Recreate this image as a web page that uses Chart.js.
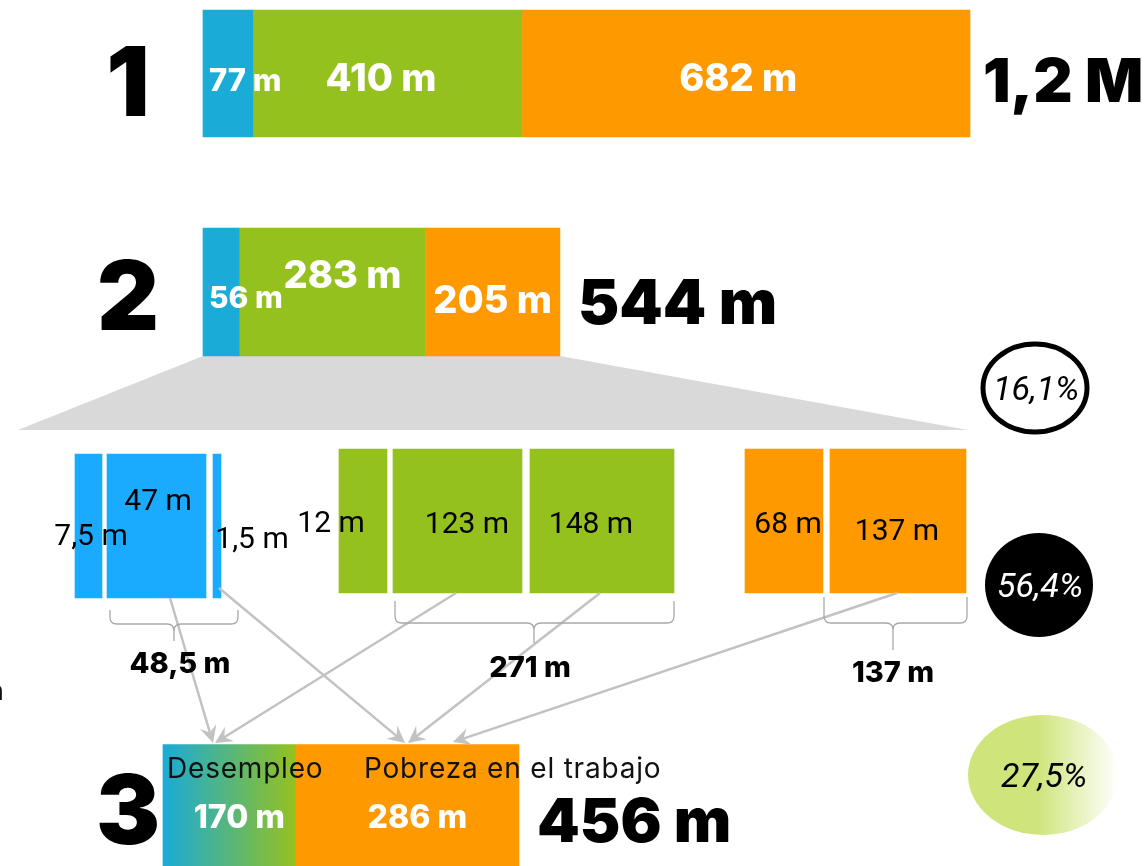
<!DOCTYPE html>
<html>
<head>
<meta charset="utf-8">
<script src="https://cdn.jsdelivr.net/npm/chart.js@4.4.1/dist/chart.umd.min.js"></script>
<style>
  html, body { margin: 0; padding: 0; background: #fff; overflow: hidden; }
  canvas { display: block; }
</style>
</head>
<body>
<canvas id="chart" width="1148" height="866"></canvas>
<script>
// --- data (thousands of people) ---
const rowNumbers = ['1', '2', '3'];
const row1Values = [77, 410, 682];
const row2Values = [56, 283, 205];
const row3Values = [170, 286];
const row3Names = ['Desempleo', 'Pobreza en el trabajo'];
const detailValues = [7.5, 47, 1.5, 12, 123, 148, 68, 137];
const detailGroup = [0, 0, 0, 1, 1, 1, 2, 2];
const braceMembers = [[1, 2], [4, 5], [7]];
const shareValues = [16.1, 56.4, 27.5];

// --- styling / layout ---
const W = 1148, H = 866;
const rowColors = ['#1aabd7', '#95c11f', '#ff9900'];
const detailColors = ['#1aabff', '#95c11f', '#ff9900'];
const ROW_X0 = 203, ROW1_PX = 767;
const ROW3_X0 = 163, ROW3_PX = 356;
const rowY = [73.5, 292, 805.5];
const rowThick = [127, 128, 122];
const BOLD = '"Inter", "Roboto", sans-serif';
const REG = 'Roboto, "Inter", sans-serif';

// detail boxes: left/right edges in pixels, label centre & baseline
const detailBoxes = [[75, 102], [107, 206], [213, 221], [339, 387], [393, 522], [530, 674], [745, 823], [830, 966]];
const detailRowY = [526, 521, 521];
const detailLabelPos = [[91, 545], [158, 510], [252, 548], [331, 532], [467, 533], [591, 533], [788, 533], [897, 540]];
const braceLayout = [
  {x1: 110, x2: 238, xm: 174, top: 610, line: 624, tip: 641, lx: 180, ly: 673},
  {x1: 395, x2: 674, xm: 534, top: 601, line: 623, tip: 643, lx: 530, ly: 677},
  {x1: 824, x2: 967, xm: 893, top: 597, line: 623, tip: 650, lx: 893, ly: 682}
];
const flowLayout = [[170, 598, 213, 743], [219, 588, 405, 743], [456, 593, 215, 743], [600, 593, 408, 743], [897, 593, 453, 742]];
const circleLayout = [
  {cx: 1035, cy: 388, rx: 52, ry: 44, kind: 'outline'},
  {cx: 1039, cy: 585, rx: 54, ry: 52, kind: 'solid'},
  {cx: 1043, cy: 775, rx: 75, ry: 60, kind: 'soft'}
];

const sum = a => a.reduce((s, v) => s + v, 0);
const PX = ROW1_PX / sum(row1Values);
const PX3 = ROW3_PX / sum(row3Values);

function segments(values) {
  let acc = 0;
  return values.map(v => [acc, acc += v]);
}
const fmt = v => String(v).replace('.', ',') + ' m';
const fmtTotal = t => t >= 1000 ? (t / 1000).toFixed(1).replace('.', ',') + ' M' : t + ' m';

function rowDataset(values, row, axis) {
  return {
    data: segments(values).map(s => ({x: s, y: rowY[row]})),
    xAxisID: axis,
    yAxisID: 'y',
    barThickness: rowThick[row],
    grouped: false,
    borderWidth: 0,
    backgroundColor: rowColors
  };
}

const row3Set = rowDataset(row3Values, 2, 'x3');
row3Set.backgroundColor = function (c) {
  if (c.dataIndex !== 0) return rowColors[2];
  const sc = c.chart.scales.x3;
  if (!sc) return rowColors[0];
  const a = sc.getPixelForValue(0), b = sc.getPixelForValue(row3Values[0]);
  if (!isFinite(a) || !isFinite(b)) return rowColors[0];
  const g = c.chart.ctx.createLinearGradient(a, 0, b, 0);
  g.addColorStop(0, rowColors[0]);
  g.addColorStop(1, rowColors[1]);
  return g;
};

const detailSet = {
  data: detailBoxes.map((b, i) => ({x: b, y: detailRowY[detailGroup[i]]})),
  xAxisID: 'px',
  yAxisID: 'y',
  barThickness: 144,
  grouped: false,
  borderWidth: 0,
  backgroundColor: detailGroup.map(g => detailColors[g])
};

function text(ctx, str, x, y, font, color, align, spacing) {
  ctx.font = font;
  ctx.fillStyle = color;
  ctx.textAlign = align || 'center';
  ctx.textBaseline = 'alphabetic';
  ctx.letterSpacing = spacing || '0px';
  ctx.fillText(str, x, y);
  ctx.letterSpacing = '0px';
}

const infographic = {
  id: 'infographic',
  beforeDatasetsDraw(chart) {
    const {ctx} = chart;
    const {x, px, y} = chart.scales;
    const top = y.getPixelForValue(rowY[1] + rowThick[1] / 2);
    ctx.save();
    ctx.fillStyle = '#d9d9d9';
    ctx.beginPath();
    ctx.moveTo(x.getPixelForValue(0), top);
    ctx.lineTo(x.getPixelForValue(sum(row2Values)), top);
    ctx.lineTo(px.getPixelForValue(968), y.getPixelForValue(430));
    ctx.lineTo(px.getPixelForValue(18), y.getPixelForValue(430));
    ctx.closePath();
    ctx.fill();
    ctx.restore();
  },
  afterDatasetsDraw(chart) {
    const {ctx} = chart;
    const {x, x3, px, y} = chart.scales;
    ctx.save();

    // flow arrows
    ctx.strokeStyle = '#c2c2c2';
    ctx.fillStyle = '#c2c2c2';
    ctx.lineWidth = 2.5;
    flowLayout.forEach(f => {
      const x0 = px.getPixelForValue(f[0]), y0 = y.getPixelForValue(f[1]);
      const x1 = px.getPixelForValue(f[2]), y1 = y.getPixelForValue(f[3]);
      const a = Math.atan2(y1 - y0, x1 - x0);
      const len = 17, half = 8.5;
      const bx = x1 - Math.cos(a) * len, by = y1 - Math.sin(a) * len;
      ctx.beginPath();
      ctx.moveTo(x0, y0);
      ctx.lineTo(x1 - Math.cos(a) * 10, y1 - Math.sin(a) * 10);
      ctx.stroke();
      ctx.beginPath();
      ctx.moveTo(x1, y1);
      ctx.lineTo(bx + Math.sin(a) * half, by - Math.cos(a) * half);
      ctx.lineTo(x1 - Math.cos(a) * 11, y1 - Math.sin(a) * 11);
      ctx.lineTo(bx - Math.sin(a) * half, by + Math.cos(a) * half);
      ctx.closePath();
      ctx.fill();
    });

    // braces
    ctx.strokeStyle = '#a8a8a8';
    ctx.lineWidth = 1.3;
    braceLayout.forEach((b, i) => {
      const r = 7;
      const x1 = px.getPixelForValue(b.x1), x2 = px.getPixelForValue(b.x2), xm = px.getPixelForValue(b.xm);
      const t = y.getPixelForValue(b.top), l = y.getPixelForValue(b.line), tip = y.getPixelForValue(b.tip);
      ctx.beginPath();
      ctx.moveTo(x1, t);
      ctx.lineTo(x1, l - r);
      ctx.quadraticCurveTo(x1, l, x1 + r, l);
      ctx.lineTo(xm - r, l);
      ctx.quadraticCurveTo(xm, l, xm, l + r);
      ctx.lineTo(xm, tip);
      ctx.moveTo(xm, l + r);
      ctx.quadraticCurveTo(xm, l, xm + r, l);
      ctx.lineTo(x2 - r, l);
      ctx.quadraticCurveTo(x2, l, x2, l - r);
      ctx.lineTo(x2, t);
      ctx.stroke();
      const total = sum(braceMembers[i].map(k => detailValues[k]));
      text(ctx, fmt(total), px.getPixelForValue(b.lx), y.getPixelForValue(b.ly), '800 29px ' + BOLD, '#000');
    });

    // detail labels
    detailValues.forEach((v, i) => {
      const p = detailLabelPos[i];
      text(ctx, fmt(v), px.getPixelForValue(p[0]), y.getPixelForValue(p[1]), '400 30px ' + REG, '#000');
    });

    // row numbers
    [rowY[0] + 42, rowY[1] + 38, rowY[2] + 38].forEach((yy, i) => {
      text(ctx, rowNumbers[i], 128, yy, '900 96px ' + BOLD, '#000');
    });

    // row 1 & 2 segment labels and totals
    const rowSets = [[row1Values, 0, [91, 91, 91], [6, -7, -8], 31, 38, 13, 102, 61], [row2Values, 1, [308, 288, 313], [6, 10, 0], 30, 38, 18, 324, 62]];
    rowSets.forEach(([vals, row, base, dx, f0, f1, gap, ty, fs]) => {
      segments(vals).forEach((s, i) => {
        const a = x.getPixelForValue(s[0]), b = x.getPixelForValue(s[1]);
        if (i === 0) text(ctx, fmt(vals[i]), a + dx[i], base[i], '800 ' + f0 + 'px ' + BOLD, '#fff', 'left');
        else text(ctx, fmt(vals[i]), (a + b) / 2 + dx[i], base[i], '800 ' + f1 + 'px ' + BOLD, '#fff');
      });
      const end = x.getPixelForValue(sum(vals));
      text(ctx, fmtTotal(sum(vals)), end + gap, ty, '900 ' + fs + 'px ' + BOLD, '#000', 'left');
    });

    // row 3 labels
    segments(row3Values).forEach((s, i) => {
      const a = x3.getPixelForValue(s[0]), b = x3.getPixelForValue(s[1]);
      text(ctx, fmt(row3Values[i]), (a + b) / 2 + 10, 828, '800 32px ' + BOLD, '#fff');
    });
    text(ctx, row3Names[0], 167, 778, '400 28px ' + BOLD, '#111', 'left', '0.8px');
    text(ctx, row3Names[1], 364, 778, '400 28px ' + BOLD, '#111', 'left', '0.8px');
    text(ctx, fmtTotal(sum(row3Values)), x3.getPixelForValue(sum(row3Values)) + 18, 842, '900 61px ' + BOLD, '#000', 'left');
    text(ctx, 'n', -12, 700, '400 27px ' + BOLD, '#111', 'left');

    // share ellipses
    circleLayout.forEach((c, i) => {
      const cx = px.getPixelForValue(c.cx), cy = y.getPixelForValue(c.cy);
      ctx.beginPath();
      ctx.ellipse(cx, cy, c.rx, c.ry, 0, 0, Math.PI * 2);
      let col = '#000';
      if (c.kind === 'outline') {
        ctx.lineWidth = 5;
        ctx.strokeStyle = '#000';
        ctx.stroke();
      } else if (c.kind === 'solid') {
        ctx.fillStyle = '#000';
        ctx.fill();
        col = '#fff';
      } else {
        const g = ctx.createLinearGradient(cx - 5, 0, cx + c.rx, 0);
        g.addColorStop(0, '#cfe57c');
        g.addColorStop(1, '#ffffff');
        ctx.fillStyle = g;
        ctx.fill();
      }
      text(ctx, shareValues[i].toFixed(1).replace('.', ',') + '%', cx + 1, cy + 12, 'italic 400 34px ' + REG, col);
    });

    ctx.restore();
  }
};

new Chart(document.getElementById('chart'), {
  type: 'bar',
  data: {datasets: [rowDataset(row1Values, 0, 'x'), rowDataset(row2Values, 1, 'x'), row3Set, detailSet]},
  plugins: [infographic],
  options: {
    indexAxis: 'y',
    responsive: false,
    animation: false,
    layout: {padding: 0},
    plugins: {legend: {display: false}, tooltip: {enabled: false}},
    scales: {
      x: {type: 'linear', axis: 'x', display: false, offset: false, min: -ROW_X0 / PX, max: (W - ROW_X0) / PX},
      x3: {type: 'linear', axis: 'x', display: false, offset: false, min: -ROW3_X0 / PX3, max: (W - ROW3_X0) / PX3},
      px: {type: 'linear', axis: 'x', display: false, offset: false, min: 0, max: W},
      y: {type: 'linear', axis: 'y', display: false, offset: false, reverse: true, min: 0, max: H}
    }
  }
});
</script>
</body>
</html>
